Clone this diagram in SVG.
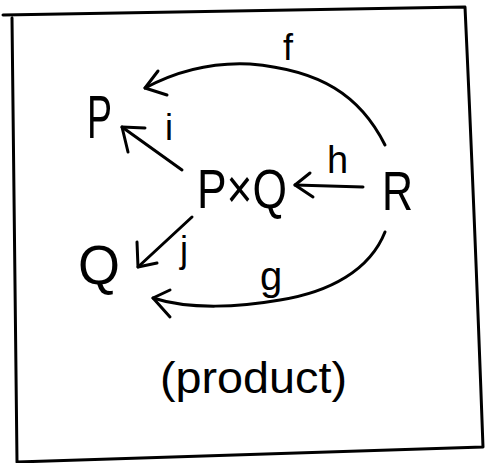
<svg xmlns="http://www.w3.org/2000/svg" width="485" height="463" viewBox="0 0 485 463">
<style>
.frame{fill:none;stroke:#000;stroke-width:3;stroke-linecap:round;stroke-linejoin:round}
.c{fill:none;stroke:#000;stroke-width:3;stroke-linecap:round;stroke-linejoin:round}
.t{font-family:"Liberation Sans",Arial,sans-serif;fill:#000}
</style>
<rect width="485" height="463" fill="#fff"/>
<path class="frame" d="M3 15 L465 7 Q474 200 483 447 L17 462 Q16 300 12 18"/>
<g id="connectors">
<path class="c" d="M385 145 C360 95 320 70 250 64 C210 62 175 72 145 88"/>
<path class="c" d="M158 71 L145 88 L167 95"/>
<path class="c" d="M182 170 L122 127"/>
<path class="c" d="M145 128 L122 127 L128 152"/>
<path class="c" d="M363 187 L295 185"/>
<path class="c" d="M310 173 L295 185 L313 197"/>
<path class="c" d="M192 217 L138 267"/>
<path class="c" d="M137 242 L138 267 L157 263"/>
<path class="c" d="M385 232 C370 270 330 292 280 300 C240 307 190 310 153 298"/>
<path class="c" d="M170 290 L153 298 L170 317"/>
</g>
<g id="node-P"><text class="t" x="87" y="138" font-size="62" textLength="25" lengthAdjust="spacingAndGlyphs">P</text></g>
<g id="node-PxQ"><text class="t" x="197" y="208" font-size="56" textLength="90" lengthAdjust="spacingAndGlyphs">P×Q</text></g>
<g id="node-R"><text class="t" x="382" y="210" font-size="56" textLength="31" lengthAdjust="spacingAndGlyphs">R</text></g>
<g id="node-Q"><text class="t" x="78" y="284" font-size="56" textLength="42" lengthAdjust="spacingAndGlyphs">Q</text></g>
<g id="labels">
<text class="t" x="283" y="60" font-size="36">f</text>
<text class="t" x="165" y="140" font-size="36">i</text>
<text class="t" x="327" y="173" font-size="38">h</text>
<text class="t" x="180" y="262" font-size="36">j</text>
<text class="t" x="260" y="290" font-size="40">g</text>
<text class="t" x="160" y="393" font-size="44" textLength="187" lengthAdjust="spacingAndGlyphs">(product)</text>
</g>
</svg>
